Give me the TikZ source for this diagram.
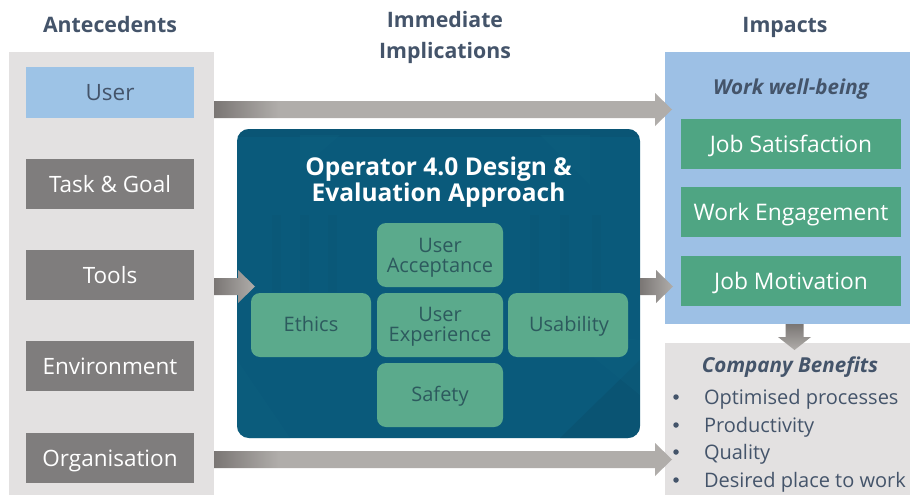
\documentclass[tikz,border=0pt]{standalone}
\usepackage{fontspec}
\setmainfont{Open Sans}
\usetikzlibrary{calc,positioning}
\definecolor{panelgray}{HTML}{E3E1E1}
\definecolor{boxgray}{HTML}{7F7D7D}
\definecolor{userblue}{HTML}{9DC3E6}
\definecolor{panelblue}{HTML}{9DC0E5}
\definecolor{teal}{HTML}{0A5A7B}
\definecolor{tealdark}{HTML}{0A5270}
\definecolor{teallight}{HTML}{0F6180}
\definecolor{green1}{HTML}{5BAA8C}
\definecolor{green2}{HTML}{4FA583}
\definecolor{ink}{HTML}{44546A}
\definecolor{inkgreen}{HTML}{2D5A5E}
\definecolor{ardark}{HTML}{7A7674}
\definecolor{arlight}{HTML}{B0ADAA}
\pgfdeclarehorizontalshading{longgrad}{100bp}{color(0bp)=(ardark); color(25bp)=(ardark); color(32bp)=(arlight); color(100bp)=(arlight)}
\tikzset{
  x=1pt,y=-1pt,
  every node/.style={inner sep=0pt,outer sep=0pt,align=center},
  panel/.style={fill=#1,draw=none,anchor=north west},
  headtxt/.style={text=ink,font=\fontsize{21.3}{25}\selectfont\bfseries},
  antebox/.style={fill=boxgray,text=white,minimum width=168pt,minimum height=50.5pt,text height=16pt,text depth=0pt,font=\fontsize{22.5}{26}\selectfont},
  impbox/.style={fill=green2,text=white,minimum width=220pt,minimum height=50.5pt,text height=16pt,text depth=0pt,font=\fontsize{22.8}{26}\selectfont},
  inner box/.style={fill=green1,text=inkgreen,rounded corners=9pt,minimum height=64pt,font=\fontsize{20}{20.5}\selectfont},
  single inner/.style={inner box,text height=14pt,text depth=1pt},
  shorta/.style={left color=ardark,right color=arlight,draw=none},
  longa/.style={shading=longgrad,draw=none},
  downa/.style={top color=ardark,bottom color=arlight,draw=none},
  listtxt/.style={text=ink,anchor=west,font=\fontsize{20}{23}\selectfont},
  subhead/.style={text=ink,font=\fontsize{20.6}{24}\selectfont\bfseries\itshape},
  bullet dot/.style={circle,fill=ink,minimum size=5.5pt},
}
% block arrow: from (#2) to (#3), horizontal
\newcommand{\harrow}[3]{\shade[#1] ($(#2)+(0,-8.5)$) -- ($(#3)+(-17,-8.5)$) -- ($(#3)+(-17,-16.5)$) -- (#3) -- ($(#3)+(-17,16.5)$) -- ($(#3)+(-17,8.5)$) -- ($(#2)+(0,8.5)$) -- cycle;}
\begin{document}
\begin{tikzpicture}
\useasboundingbox (0,0) rectangle (910,495);
\fill[white] (0,0) rectangle (910,495);
% panels
\node[panel=panelgray,minimum width=205pt,minimum height=443pt] (ante) at (9,52) {};
\node[panel=panelblue,minimum width=245pt,minimum height=272pt] (imp) at (665,52) {};
\node[panel=panelgray,minimum width=245pt,minimum height=152pt] (comp) at (665,343) {};
\node[fill=teal,rounded corners=12pt,minimum width=403pt,minimum height=309pt,anchor=north west] (core) at (237,129) {};
% faint background texture of the core panel
\begin{scope}
\clip[rounded corners=12pt] (237,129) rectangle (640,438);
\fill[tealdark,opacity=.7] (640,360) -- (560,438) -- (640,438) -- cycle;
\fill[tealdark,opacity=.5] (237,129) rectangle (640,137);
\fill[teallight,opacity=.35] (560,330) -- (640,395) -- (640,340) -- cycle;
\fill[teallight,opacity=.35] (237,360) -- (290,438) -- (237,438) -- cycle;
\foreach \xa in {272,300,328,530,560,592}{
  \fill[tealdark,opacity=.22] (\xa,215) rectangle (\xa+9,292);
}
\fill[teallight,opacity=.35] (300,135) -- (340,135) -- (300,170) -- cycle;
\fill[teallight,opacity=.35] (540,135) -- (590,135) -- (590,185) -- cycle;
\end{scope}
% headings
\node[headtxt] (h1) at (110,25) {Antecedents};
\node[headtxt] (h2) at (445,37.5) {Immediate\\[6pt]Implications};
\node[headtxt] (h3) at (785,27) {Impacts};
% antecedents
\node[antebox,fill=userblue,text=ink] (user) at (110,92.5) {User};
\node[antebox] (task) at (110,184) {Task \& Goal};
\node[antebox] (tools) at (110,275) {Tools};
\node[antebox] (env) at (110,366) {Environment};
\node[antebox] (org) at (110,458) {Organisation};
% core
\node[text=white,font=\fontsize{24.5}{26.5}\selectfont\bfseries] (title) at (438.5,182) {Operator 4.0 Design \&\\Evaluation Approach};
\node[inner box,minimum width=126pt] (ua) at (440,255) {\rule{0pt}{20pt}User\\Acceptance};
\node[inner box,minimum width=126pt] (ux) at (440,325) {\rule{0pt}{18pt}User\\Experience};
\node[single inner,minimum width=126pt] (safety) at (440,395) {Safety};
\node[single inner,minimum width=120pt] (ethics) at (311,325) {Ethics};
\node[single inner,minimum width=120pt] (usab) at (568,325) {\hspace{2pt}Usability};
% impacts
\node[subhead] (wwb) at (791,89) {Work well-being};
\node[impbox] (js) at (791,144) {Job Satisfaction};
\node[impbox] (we) at (791,212) {Work Engagement};
\node[impbox] (jm) at (791,281) {Job Motivation};
% company
\node[subhead] (cb) at (790,367) {Company Benefits};
\foreach \n/\y/\t in {a/397/Optimised processes,b/425/Productivity,c/452/Quality,d/480/Desired place to work}{
  \node[listtxt] (l\n) at (704,\y+2) {\t};
  \node[bullet dot] (b\n) at (676,\y) {};
}
% arrows
\coordinate (a1s) at (ante.east |- 0,109.5);
\coordinate (a1e) at (672,109.5);
\coordinate (a2s) at (ante.east |- 0,286.5);
\coordinate (a2e) at (255,286.5);
\coordinate (a3s) at (core.east |- 0,286.5);
\coordinate (a3e) at (673,286.5);
\coordinate (a4s) at (ante.east |- 0,459.5);
\coordinate (a4e) at (672,459.5);
\harrow{longa}{a1s}{a1e}
\harrow{shorta}{a2s}{a2e}
\harrow{shorta}{a3s}{a3e}
\harrow{longa}{a4s}{a4e}
\coordinate (d1) at (imp.south -| 794.5,0);
\coordinate (d2) at (794.5,350);
\shade[downa] ($(d1)+(-9,0)$) -- ($(d2)+(-9,-13)$) -- ($(d2)+(-16.5,-13)$) -- (d2) -- ($(d2)+(16.5,-13)$) -- ($(d2)+(9,-13)$) -- ($(d1)+(9,0)$) -- cycle;
\end{tikzpicture}
\end{document}
